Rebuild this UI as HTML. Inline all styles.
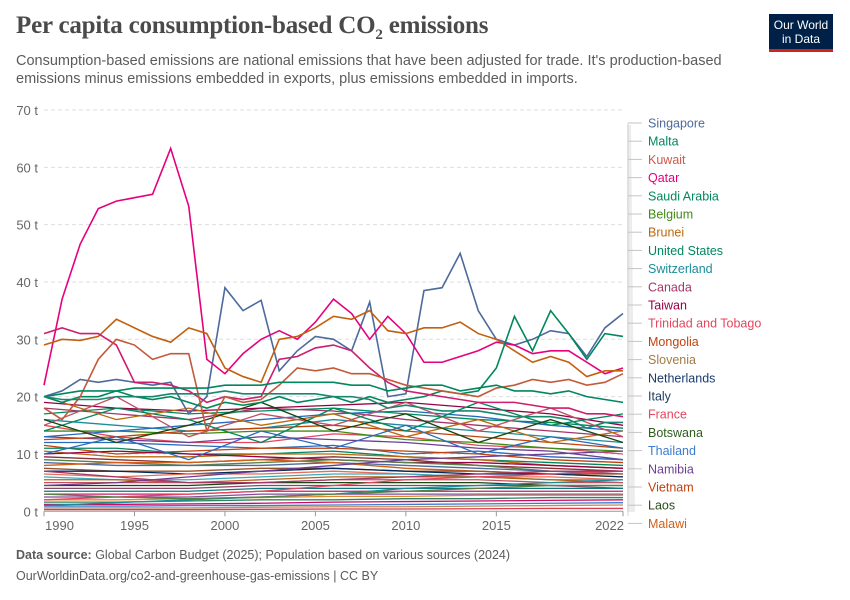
<!DOCTYPE html>
<html><head><meta charset="utf-8">
<style>
body{margin:0;background:#fff;font-family:"Liberation Sans",sans-serif;}
#wrap{position:relative;width:850px;height:600px;overflow:hidden;}
.title{position:absolute;left:16px;top:12px;font-family:"Liberation Serif",serif;font-size:25px;color:#4a4a4a;font-weight:bold;letter-spacing:-0.2px}
.sub{position:absolute;left:16px;top:52px;width:740px;font-size:14.5px;line-height:18px;color:#5b5b5b}
.logo{position:absolute;left:769px;top:14px;width:64px;height:38px;background:#002147;border-bottom:3px solid #ce261e;color:#fff;font-size:12px;line-height:14px;text-align:center;padding-top:4px;box-sizing:border-box}
.foot{position:absolute;left:16px;font-size:12.5px;color:#5b5b5b}
</style></head><body>
<div id="wrap">
<div class="title">Per capita consumption-based CO<sub style="font-size:15px">2</sub> emissions</div>
<div class="logo">Our World<br>in Data</div>
<div class="sub">Consumption-based emissions are national emissions that have been adjusted for trade. It's production-based emissions minus emissions embedded in exports, plus emissions embedded in imports.</div>
<svg id="chart" width="850" height="600" style="position:absolute;left:0;top:0"></svg>
<div class="foot" style="top:548px"><b>Data source:</b> Global Carbon Budget (2025); Population based on various sources (2024)</div>
<div class="foot" style="top:569px">OurWorldinData.org/co2-and-greenhouse-gas-emissions | CC BY</div>
</div>
<script>
const years=[];for(let y=1990;y<=2022;y++)years.push(y);
const yTicks=[0,10,20,30,40,50,60,70];
const xTicks=[1990,1995,2000,2005,2010,2015,2022];
const labelNames=["Singapore","Malta","Kuwait","Qatar","Saudi Arabia","Belgium","Brunei","United States","Switzerland","Canada","Taiwan","Trinidad and Tobago","Mongolia","Slovenia","Netherlands","Italy","France","Botswana","Thailand","Namibia","Vietnam","Laos","Malawi"];
const labelColors=["#4c6a9c","#00875e","#d2584b","#e6007e","#00875e","#3f8c14","#b9690f","#00875e","#1b8d9a","#a2386a","#970046","#e4465e","#c2410c","#a27c47","#1a3a6e","#1d3d63","#e4465e","#2c5e1e","#3b7bd0","#6d3e91","#c2410c","#2c4a1e","#d06017"];
const singapore=[20,21,23,22.5,23,22.5,22,22.5,17,20,39,35,36.8,24.5,28,30.5,30,28,36.5,20,20.5,38.5,39,45,35,30,29,30,31.5,31,27,32,34.5];
const qatar=[22,37,46.6,52.8,54.1,54.7,55.3,63.3,53.2,26.5,24,27.5,30,31.5,30,33,37,34.5,30,34,31,26,26,27,28,29.5,29,27.5,28,28,26,24,25];
const brunei=[29,30,29.8,30.5,33.5,32,30.5,29.5,32,31,25,23.5,22.5,30,30.5,32,34,33.5,35,31.5,31,32,32,33,31,30,28,26,27,26,23.5,24.5,24.5];
const malta=[20,19,20,20,21,20,19.5,20,19,18,19,18.5,19,20,19,19.5,20,19,20,19,19.5,20,21,20.5,21,25,34,28,35,31,26.5,31,30.5];
const taiwanPink=[31,32,31,31,29,22.5,22.5,22,21,19,20,19.5,20,26.5,27,28.5,29,28,25,22.5,21,20.5,20,19.5,19,19,19,18.5,18,18,17,17,16.5];
const kuwait=[18,16,20,26.5,30,29,26.5,27.5,27.5,14,20,19,19.5,22,25,24.5,25,24,24,23,22,21.5,21,20.5,20,21.5,22,23,22.5,23,22,22.5,24];
const saudi=[20,20.5,21,21,21,21.5,21.5,21.5,21.5,21.5,22,22,22,22.5,22.5,22.5,22.5,22,22,21,21.5,22,22,21,21.5,22,21,21,20.5,21,20,19.5,19];
const usa=[20,19.5,19.5,19.5,20,20,20,20.5,20.5,20.5,21,20.5,20.5,20.5,20.5,20.5,20,20,19.5,18,18.5,18,17.5,17.5,17.5,17,16.5,16.5,16.5,16,14.5,15.5,15.5];
const mainSeries=[singapore,qatar,brunei,malta,taiwanPink,kuwait,saudi,usa];
const mainColors=["#4c6a9c","#e6007e","#c2600f","#00875e","#d01c6e","#c15a3a","#00875e","#18876e"];
const bgYears=[1990,1994,1998,2002,2006,2010,2014,2018,2022];
const bg=[
[18,17,16,18,17.5,16,15,14,13],[16,15,14,14.5,16,15,14,13,12],[15,13,12,12,13.5,13,11.5,11,10],
[14,14,13.5,14,14,12.5,12,11,10.5],[13,12.5,12,13,12.5,12,11,10.5,9],[12,12,11.5,11,11.5,10,10.5,9.5,9],
[11.5,10,10.5,11,11,10.5,10,9,8.5],[11,11,10,10,10.5,9.5,9,8.5,8],[10.5,9.5,9.5,10,10,9.5,9,8,7.5],
[10,10.5,10,9.5,9,8.5,8.5,8,7.5],[9.5,9,8.5,9,9.5,9,8,7.5,7],[9,8.5,8,8.5,9,8.5,8,7,7],
[8.5,8,8,8,8.5,8,7.5,7,6.5],[8,8.5,8.5,9,8.5,7.5,7,6.5,6],[7.5,7,7,7.5,7.5,7,7,6.5,6.5],
[7,7,6.5,7,7.5,7,6.5,6.5,6],[6.5,6,6.5,6.5,7,6.5,6,6,5.5],[6,5.5,5.5,6,6.5,6.5,6,5.5,5.5],
[5.5,5.5,5,5.5,6,6,6,5.5,5],[5,5,5,5,5.5,5.5,5.5,5,5],[4.5,4.5,4.5,5,5,5,5,4.5,4.5],
[4,4,4,4.5,4.5,4.5,4.5,4.5,4],[3.5,3.5,3.5,4,4,4,4,4,4],[3,3,3,3.5,3.5,3.5,3.5,3.5,3.5],
[2.5,2.5,2.5,3,3,3,3,3,3],[2,2,2.2,2.4,2.6,2.6,2.8,2.8,2.8],[1.6,1.6,1.8,2,2,2.2,2.2,2.4,2.4],
[1.2,1.2,1.3,1.4,1.6,1.7,1.8,1.9,2],[0.9,0.9,1,1,1.1,1.2,1.3,1.4,1.5],[0.6,0.6,0.6,0.7,0.8,0.8,0.9,1,1.1],
[0.3,0.3,0.3,0.35,0.4,0.4,0.45,0.5,0.5],[13,14,15,16,17,17.5,16.5,15,14],[17,18,17,17.5,18,17,16,15.5,14.5],
[19,18,17.5,18,18.5,19,18,17,15],[12.5,13,14,14.5,15,14,13,12,11],[4.5,5,6,7,8,9,9.5,10,10.5],
[2,2.5,3,3.5,4.5,5.5,6,6.5,7],[1,1.5,2,2.5,3,4,4.5,5,5.5],[7,6,5,5,5.5,6,6.5,7,7],[3,2.5,2.2,2.5,3,3.5,4,4.5,4.5],
[15,20,13,17,15,19,14,18,13],[14,18,16,12,18,14,19,15,17],[20,16,18,15,17,13,16,12,14],[10,13,9,14,11,15,10,13,11],[16,12,15,19,14,17,12,16,12]
];
const bgColors=["#a2386a","#1b8d9a","#e4465e","#3f8c14","#6d3e91","#286bbb","#c2410c","#00875e","#b9690f","#970046","#883039","#578145","#4c6a9c","#d06017","#9a5129","#00295b","#e56e5a","#38aaba","#b16214","#c15065","#18470f","#8c4569","#0a7b7b","#ca1b6e","#7f4f9a","#e08a2d","#2c8465","#cf0a66","#3b7bd0","#bc8e5a","#d73c50","#286bbb","#008c5e","#970046","#c2410c","#6d3e91","#e4465e","#1b8d9a","#a2386a","#578145","#c15065","#00875e","#b9690f","#286bbb","#18470f"];

const svg=document.getElementById('chart');
const NS='http://www.w3.org/2000/svg';
const X0=44,X1=623,Y0=511.3,PER=5.733;
function xs(y){return X0+(y-1990)*(X1-X0)/32;}
function ys(v){return Y0-v*PER;}
function mk(tag,attrs,parent){const e=document.createElementNS(NS,tag);for(const k in attrs)e.setAttribute(k,attrs[k]);(parent||svg).appendChild(e);return e;}
yTicks.forEach(t=>{
  if(t>0){const g=mk('line',{x1:X0,x2:X1,y1:ys(t),y2:ys(t),stroke:'#dddddd','stroke-dasharray':'4,3'});
  
  }
  const tx=mk('text',{x:38,y:ys(t)+5,'text-anchor':'end','font-size':13,fill:'#666','font-family':'Liberation Sans,sans-serif'});
  tx.textContent=t+' t';
  
  
});
const ax=mk('line',{x1:X0,x2:X1,y1:Y0,y2:Y0,stroke:'#999'});


xTicks.forEach(t=>{
  mk('line',{x1:xs(t),x2:xs(t),y1:Y0,y2:Y0+5,stroke:'#999'});
  const anchor=t===1990?'start':(t===2022?'end':'middle');
  const tx=mk('text',{x:t===1990?xs(t)+1:(t===2022?xs(t)+1:xs(t)),y:530,'text-anchor':anchor,'font-size':13,fill:'#666','font-family':'Liberation Sans,sans-serif'});
  tx.textContent=t;
  
  
});
bg.forEach((s,i)=>{
  const p=mk('polyline',{points:s.map((v,j)=>xs(bgYears[j])+','+ys(v)).join(' '),fill:'none',stroke:bgColors[i%bgColors.length],'stroke-width':1.3});
  
  
});
mainSeries.forEach((s,i)=>{
  const p=mk('polyline',{points:s.map((v,j)=>xs(years[j])+','+ys(v)).join(' '),fill:'none',stroke:mainColors[i],'stroke-width':1.6});
  
  
});
mk('polygon',{points:'627,125 631,125 635,512 627,512',fill:'#ececec'});
mk('line',{x1:628,x2:628,y1:123,y2:516,stroke:'#d4d4d4','stroke-width':1});
labelNames.forEach((n,i)=>{
  const ly=123+i*18.2;
  mk('line',{x1:628,x2:642,y1:ly,y2:ly,stroke:'#c4c4c4'});
  const t=mk('text',{x:648,y:ly+4.5,'font-size':12.5,fill:labelColors[i],'font-family':'Liberation Sans,sans-serif'});
  t.textContent=n;
  
  
});
</script>
</body></html>
